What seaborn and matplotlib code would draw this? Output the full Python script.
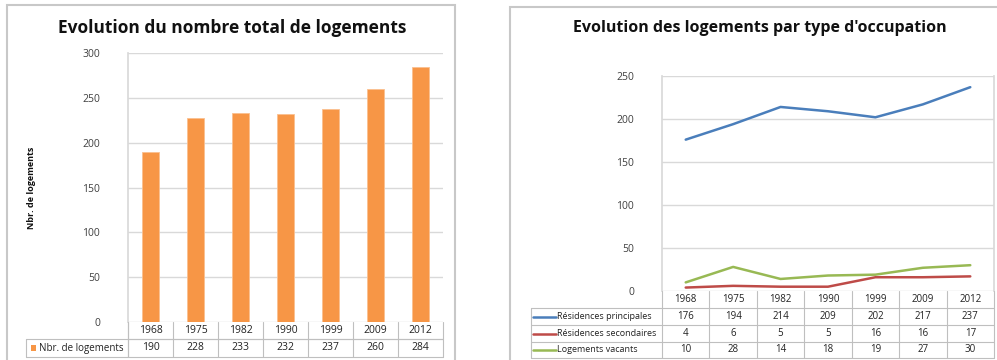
import matplotlib
matplotlib.use("Agg")
import matplotlib.pyplot as plt
from matplotlib.lines import Line2D
from matplotlib.patches import Rectangle
import seaborn as sns
import pandas as pd

sns.set_theme(style="white")
plt.rcParams['font.family'] = ['Open Sans', 'DejaVu Sans']

years = ["1968", "1975", "1982", "1990", "1999", "2009", "2012"]
total = [190, 228, 233, 232, 237, 260, 284]
principales = [176, 194, 214, 209, 202, 217, 237]
secondaires = [4, 6, 5, 5, 16, 16, 17]
vacants = [10, 28, 14, 18, 19, 27, 30]

series_names = ["Résidences principales", "Résidences secondaires", "Logements vacants"]
series_vals = [principales, secondaires, vacants]
series_cols = ["#4A7EBB", "#BE4B48", "#98B954"]
bar_col = "#F79646"
grid_col = "#D9D9D9"
tab_col = "#BFBFBF"
txt_col = "#404040"

W, H = 997, 360
fig = plt.figure(figsize=(W / 100, H / 100), dpi=100)
fig.patch.set_facecolor("white")

def fx(x):
    return x / W

def fy(y):
    return 1 - y / H

def hline(x0, x1, y, c=tab_col, lw=0.8):
    fig.add_artist(Line2D([fx(x0), fx(x1)], [fy(y), fy(y)], color=c, lw=lw))

def vline(x, y0, y1, c=tab_col, lw=0.8):
    fig.add_artist(Line2D([fx(x), fx(x)], [fy(y0), fy(y1)], color=c, lw=lw))

# panel borders
fig.add_artist(Rectangle((fx(7), fy(362)), fx(455 - 7), fy(5) - fy(362),
                         fill=False, ec="#C8C8C8", lw=1.5))
fig.add_artist(Rectangle((fx(510), fy(362)), fx(1000 - 510), fy(7) - fy(362),
                         fill=False, ec="#C8C8C8", lw=1.5))

# ---------------- left panel ----------------
L0, L1, T0, B0 = 128, 443, 53, 322
ax1 = fig.add_axes([fx(L0), fy(B0), fx(L1 - L0), fy(T0) - fy(B0)])
df1 = pd.DataFrame({"annee": years, "n": total})
sns.barplot(data=df1, x="annee", y="n", color=bar_col, width=0.36,
            saturation=1, ax=ax1, edgecolor="#FAC090", linewidth=0.6)
ax1.set_ylim(0, 300)
ax1.set_xlim(-0.5, 6.5)
ax1.set_yticks(range(0, 301, 50))
ax1.yaxis.grid(True, color=grid_col, lw=1)
ax1.set_axisbelow(True)
ax1.set_xticks([])
ax1.set_xlabel("")
ax1.set_ylabel("")
for s in ["top", "right", "bottom"]:
    ax1.spines[s].set_visible(False)
ax1.spines["left"].set_color(grid_col)
ax1.tick_params(axis="y", length=0, pad=20, labelsize=7.5, labelcolor=txt_col)
fig.text(fx(232), fy(28), "Evolution du nombre total de logements",
         ha="center", va="center", fontsize=12.5, fontweight="bold", color="#111111")
fig.text(fx(31), fy(188), "Nbr. de logements", rotation=90, ha="center",
         va="center", fontsize=6.5, fontweight="bold", color="#111111")

# left table
cw = (L1 - L0) / len(years)
r0, r1, r2 = B0, 339, 357
hline(L0, L1, r1)
hline(26, L1, r1)
hline(26, L1, r2)
vline(26, r1, r2)
vline(L0, r0, r2)
for i in range(len(years) + 1):
    vline(L0 + i * cw, r0, r2)
for i, (yr, v) in enumerate(zip(years, total)):
    cx = L0 + (i + 0.5) * cw
    fig.text(fx(cx), fy((r0 + r1) / 2), yr, ha="center", va="center",
             fontsize=7.5, color="#222222")
    fig.text(fx(cx), fy((r1 + r2) / 2), str(v), ha="center", va="center",
             fontsize=7.5, color="#222222")
fig.add_artist(Rectangle((fx(31), fy(351)), fx(5), fy(345) - fy(351),
                         color=bar_col, lw=0))
fig.text(fx(39), fy((r1 + r2) / 2), "Nbr. de logements", ha="left", va="center",
         fontsize=7, color="#222222")

# ---------------- right panel ----------------
R0, R1, T2, B2 = 662, 994, 76, 291
ax2 = fig.add_axes([fx(R0), fy(B2), fx(R1 - R0), fy(T2) - fy(B2)])
rows = []
for name, vals in zip(series_names, series_vals):
    for yr, v in zip(years, vals):
        rows.append({"annee": yr, "n": v, "serie": name})
df2 = pd.DataFrame(rows)
sns.lineplot(data=df2, x="annee", y="n", hue="serie", palette=series_cols,
             hue_order=series_names, lw=1.8, ax=ax2, legend=False, sort=False)
ax2.set_ylim(0, 250)
ax2.set_xlim(-0.5, 6.5)
ax2.set_yticks(range(0, 251, 50))
ax2.yaxis.grid(True, color=grid_col, lw=1)
ax2.set_axisbelow(True)
ax2.set_xticks([])
ax2.set_xlabel("")
ax2.set_ylabel("")
for s in ["top", "bottom"]:
    ax2.spines[s].set_visible(False)
ax2.spines["left"].set_color(grid_col)
ax2.spines["right"].set_color(grid_col)
ax2.tick_params(axis="y", length=0, pad=20, labelsize=7.5, labelcolor=txt_col)
fig.text(fx(760), fy(28), "Evolution des logements par type d'occupation",
         ha="center", va="center", fontsize=11.5, fontweight="bold", color="#111111")

cw2 = (R1 - R0) / len(years)
rr = [B2, 308, 325, 342, 358]
LX = 531
for y in rr[1:]:
    hline(LX, R1, y)
vline(LX, rr[1], rr[-1])
for i in range(len(years) + 1):
    vline(R0 + i * cw2, rr[0], rr[-1])
for i, yr in enumerate(years):
    cx = R0 + (i + 0.5) * cw2
    fig.text(fx(cx), fy((rr[0] + rr[1]) / 2), yr, ha="center", va="center",
             fontsize=7, color="#222222")
for j, (name, vals, col) in enumerate(zip(series_names, series_vals, series_cols)):
    yc = (rr[j + 1] + rr[j + 2]) / 2
    hline(533, 556, yc, c=col, lw=1.8)
    fig.text(fx(557), fy(yc), name, ha="left", va="center", fontsize=6.5,
             color="#222222")
    for i, v in enumerate(vals):
        cx = R0 + (i + 0.5) * cw2
        fig.text(fx(cx), fy(yc), str(v), ha="center", va="center",
                 fontsize=7, color="#222222")

fig.savefig("out.png", dpi=100, facecolor="white")
